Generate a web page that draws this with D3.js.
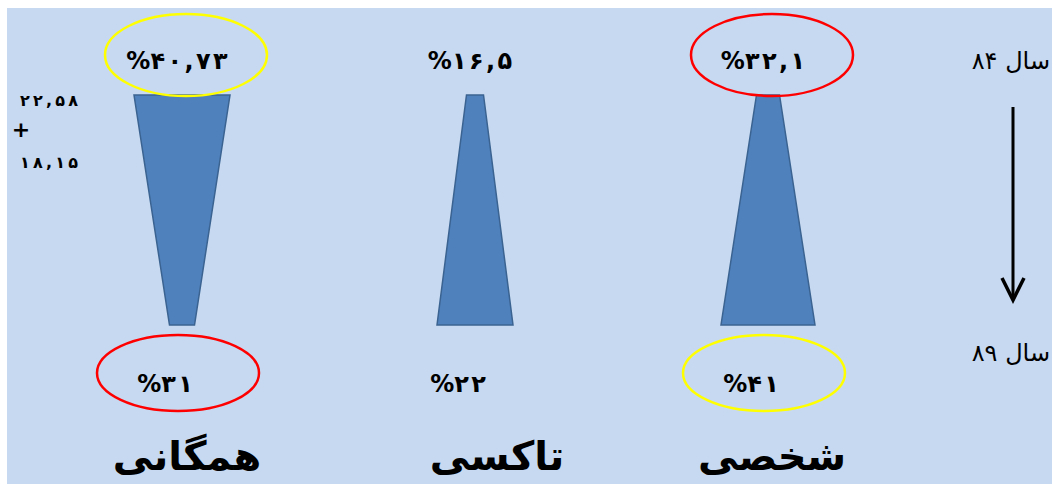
<!DOCTYPE html>
<html>
<head>
<meta charset="utf-8">
<script src="https://cdn.jsdelivr.net/npm/d3@7"></script>
<style>
  html, body { margin: 0; padding: 0; background: #fff; }
  svg { display: block; }
</style>
</head>
<body>
<div id="chart"></div>
<script>
// Transport mode share, year 84 vs year 89 (trapezoid "funnel" slide)

const categories = ['همگانی', 'تاکسی', 'شخصی'];
const years = [84, 89];
const share84 = [40.73, 16.5, 32.1];
const share89 = [31, 22, 41];
const hamganiParts = [22.58, 18.15];   // 22,58 + 18,15 = 40,73

// trapezoid widths (px) at the year-84 edge and the year-89 edge, as drawn on the slide
const shapeTop = [96, 17, 23];
const shapeBottom = [25, 76, 94];
const labelShift = [5, 22, 4];

const W = 1052, H = 484;
const FONT = '"DejaVu Sans", sans-serif';

// persian digits, comma as decimal mark; letter-spacing is ignored for this script, so pad with spaces
const toFa = (s, sep = '') => String(s).replace(/\./g, ',')
    .replace(/[0-9]/g, d => '۰۱۲۳۴۵۶۷۸۹'[+d]).split('').join(sep);
const pct = (v, sep) => '%' + toFa(v, sep);

const svg = d3.select('#chart').append('svg')
    .attr('width', W).attr('height', H);

svg.append('rect')
    .attr('x', 7).attr('y', 8)
    .attr('width', W - 7).attr('height', H - 8)
    .attr('fill', '#c6d9f0');

const x = d3.scalePoint().domain(categories).range([182, 768]);
const y = d3.scaleLinear().domain(years).range([95, 325]);

// rank inside each year: first -> yellow ring, second -> red ring
const ringColor = vals => {
    const order = vals.map((v, i) => i).sort((a, b) => vals[b] - vals[a]);
    return vals.map((v, i) => order[0] === i ? '#ffff00' : order[1] === i ? '#ff0000' : null);
};
const rings84 = ringColor(share84);
const rings89 = ringColor(share89);

const data = categories.map((c, i) => ({
    cat: c, i, v84: share84[i], v89: share89[i],
    wTop: shapeTop[i], wBot: shapeBottom[i],
    r84: rings84[i], r89: rings89[i]
}));

// trapezoids
svg.append('g').selectAll('path').data(data).join('path')
    .attr('d', d => {
        const cx = x(d.cat), y0 = y(years[0]), y1 = y(years[1]);
        return `M${cx - d.wTop / 2},${y0}L${cx + d.wTop / 2},${y0}L${cx + d.wBot / 2},${y1}L${cx - d.wBot / 2},${y1}Z`;
    })
    .attr('fill', '#4f81bd')
    .attr('stroke', '#3b6391').attr('stroke-width', 1.5)
    .attr('stroke-linejoin', 'miter');

// highlight rings
const rings = svg.append('g').attr('fill', 'none').attr('stroke-width', 2.5);
rings.selectAll('ellipse.top').data(data.filter(d => d.r84)).join('ellipse')
    .attr('class', 'top')
    .attr('cx', d => x(d.cat) + 4).attr('cy', y(years[0]) - 40)
    .attr('rx', 81).attr('ry', 41)
    .attr('stroke', d => d.r84);
rings.selectAll('ellipse.bot').data(data.filter(d => d.r89)).join('ellipse')
    .attr('class', 'bot')
    .attr('cx', d => x(d.cat) - 4).attr('cy', y(years[1]) + 48)
    .attr('rx', 81).attr('ry', 38)
    .attr('stroke', d => d.r89);

// value labels
const vals = svg.append('g')
    .attr('font-family', FONT).attr('font-weight', 'bold')
    .attr('font-size', 24).attr('fill', '#000')
    .attr('text-anchor', 'middle').attr('direction', 'ltr');
vals.selectAll('text.t84').data(data).join('text')
    .attr('class', 't84')
    .attr('x', d => x(d.cat) - 5).attr('y', y(years[0]) - 26)
    .text(d => pct(d.v84, '\u200A'));
vals.selectAll('text.t89').data(data).join('text')
    .attr('class', 't89')
    .attr('x', d => x(d.cat) - 17).attr('y', y(years[1]) + 67)
    .text(d => pct(d.v89, '\u200A'));

// category names
svg.append('g').selectAll('text').data(data).join('text')
    .attr('x', d => x(d.cat) + labelShift[d.i]).attr('y', 470)
    .attr('text-anchor', 'middle')
    .attr('font-family', FONT).attr('font-weight', 'bold').attr('font-size', 40)
    .attr('fill', '#000')
    .text(d => d.cat);

// breakdown of the year-84 public transport share
const parts = svg.append('g')
    .attr('font-family', FONT).attr('font-weight', 'bold')
    .attr('font-size', 16).attr('fill', '#000');
parts.append('text').attr('x', 49).attr('y', 106)
    .attr('text-anchor', 'middle')
    .text(toFa(hamganiParts[0], '\u2009'));
parts.append('text').attr('x', 21).attr('y', 137)
    .attr('text-anchor', 'middle').attr('font-size', 22)
    .text('+');
parts.append('text').attr('x', 49).attr('y', 168)
    .attr('text-anchor', 'middle')
    .text(toFa(hamganiParts[1], '\u2009'));

// year axis: labels and downward arrow
const yearG = svg.append('g')
    .attr('font-family', FONT).attr('font-size', 24).attr('fill', '#000');
yearG.selectAll('text').data(years).join('text')
    .attr('x', 1050).attr('y', (d, i) => i === 0 ? y(d) - 26 : y(d) + 36)
    .attr('text-anchor', 'end')
    .text(d => 'سال ' + toFa(d));

const ax = 1013;
svg.append('line')
    .attr('x1', ax).attr('x2', ax)
    .attr('y1', y(years[0]) + 12).attr('y2', y(years[1]) - 26)
    .attr('stroke', '#000').attr('stroke-width', 3);
svg.append('path')
    .attr('d', `M${ax - 11},${y(years[1]) - 47}L${ax},${y(years[1]) - 25}L${ax + 11},${y(years[1]) - 47}`)
    .attr('fill', 'none').attr('stroke', '#000')
    .attr('stroke-width', 3.5).attr('stroke-linejoin', 'miter');
</script>
</body>
</html>
